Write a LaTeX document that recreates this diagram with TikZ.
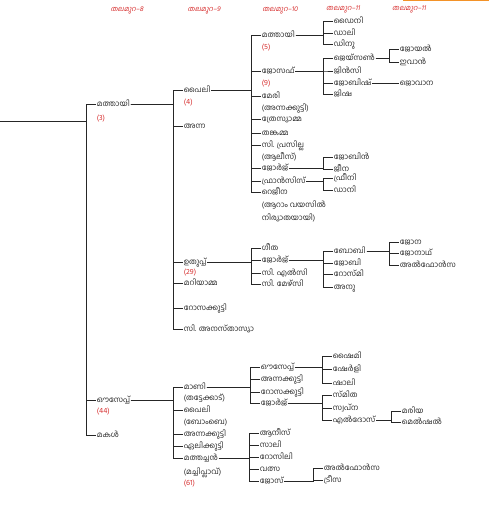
\documentclass[tikz,border=0pt]{standalone}
\usepackage{fontspec}
\usepackage{xcolor}
\newfontfamily\ml[Script=Malayalam]{Hind Kochi}
\newfontfamily\mlhead[Script=Malayalam,FakeSlant=0.2]{Hind Kochi}
\definecolor{numred}{RGB}{214,45,45}
\definecolor{barorange}{RGB}{243,146,40}
\tikzset{
    person/.style={anchor=west, inner sep=0.5pt, text height=1.6ex, text depth=0.5ex,
        font=\ml\fontsize{6.5}{7}\selectfont, text=black!85},
    aside/.style={person},
    refno/.style={person, text=numred},
    genhead/.style={inner sep=0.5pt, font=\mlhead\fontsize{6}{6}\selectfont, text=numred},
    famline/.style={line width=0.7pt, black!85},
}
% parent -> children, bus a little left of the children
\newcommand\kids[2]{\foreach \c in {#2} {\draw[famline] (#1.east) -| ([xshift=-8.5pt]\c.west) -- (\c.west);}}

\begin{document}
\begin{tikzpicture}[x=0.03cm, y=-0.03cm]
        \useasboundingbox (0,0) rectangle (491,513);
        \fill[barorange] (403,0) rectangle (489,1.5);

        \foreach \x/\g [count=\i] in {127/8, 204/9, 280/10, 343/11, 409/11}
            \node[genhead] (gen\i) at (\x,10) {തലമുറ–\g};

        % generation 8
        \node[person] (g8a) at (96,104) {മത്തായി};
        \node[refno] (g8a-no) at (96,118) {(3)};
        \node[person] (g8b) at (96,400) {ഔസേപ്പ്};
        \node[refno] (g8b-no) at (96,411) {(44)};
        \node[person] (g8c) at (96,435) {മകൾ};

        % generation 9
        \node[person] (p9a) at (183,90) {പൈലി};
        \node[refno] (p9a-no) at (183,102) {(4)};
        \node[person] (p9b) at (183,126) {അന്ന};
        \node[person] (p9c) at (183,262) {ഉതുപ്പ്};
        \node[refno] (p9c-no) at (183,272) {(29)};
        \node[person] (p9d) at (183,283) {മറിയാമ്മ};
        \node[person] (p9e) at (183,308) {റോസക്കുട്ടി};
        \node[person] (p9f) at (183,329) {സി. അനസ്താസ്യാ};

        \node[person] (q9a) at (183,387) {മാണി};
        \node[aside] (q9a-x) at (183,398) {(തട്ടേക്കാട്)};
        \node[person] (q9b) at (183,410) {പൈലി};
        \node[aside] (q9b-x) at (183,422) {(ബോംബെ)};
        \node[person] (q9c) at (183,434) {അന്നക്കുട്ടി};
        \node[person] (q9d) at (183,446) {ഏലിക്കുട്ടി};
        \node[person] (q9e) at (183,458) {മത്തച്ചൻ};
        \node[aside] (q9e-x) at (183,472) {(മച്ചിപ്ലാവ്)};
        \node[refno] (q9e-no) at (183,483) {(61)};

        % generation 10
        \node[person] (p10a) at (261,35) {മത്തായി};
        \node[refno] (p10a-no) at (261,47) {(5)};
        \node[person] (p10b) at (261,71) {ജോസഫ്};
        \node[refno] (p10b-no) at (261,83) {(9)};
        \node[person] (p10c) at (261,96) {മേരി};
        \node[aside] (p10c-x) at (261,108) {(അന്നക്കുട്ടി)};
        \node[person] (p10d) at (261,119) {ത്രേസ്യാമ്മ};
        \node[person] (p10e) at (261,133) {തങ്കമ്മ};
        \node[person] (p10f) at (261,145) {സി. പ്രസില്ല};
        \node[aside] (p10f-x) at (261,157) {(ആലീസ്)};
        \node[person] (p10g) at (261,168) {ജോർജ്};
        \node[person] (p10h) at (261,181) {ഫ്രാൻസിസ്};
        \node[person] (p10i) at (261,192) {റെജീന};
        \node[aside] (p10i-x) at (261,205) {(ആറാം വയസിൽ};
        \node[aside] (p10i-y) at (261,218) {നിര്യാതയായി)};

        \node[person] (u10a) at (261,248) {ഗീത};
        \node[person] (u10b) at (261,260) {ജോർജ്};
        \node[person] (u10c) at (261,273) {സി. എൽസി};
        \node[person] (u10d) at (261,284) {സി. മേഴ്സി};

        \node[person] (m10a) at (260,367) {ഔസേപ്പ്};
        \node[person] (m10b) at (260,379) {അന്നക്കുട്ടി};
        \node[person] (m10c) at (260,392) {റോസക്കുട്ടി};
        \node[person] (m10d) at (260,403) {ജോർജ്};

        \node[person] (c10a) at (259,433) {ആനീസ്};
        \node[person] (c10b) at (259,445) {സാലി};
        \node[person] (c10c) at (259,457) {റോസിലി};
        \node[person] (c10d) at (259,469) {വത്സ};
        \node[person] (c10e) at (259,481) {ജോസ്};

        % generation 11
        \node[person] (d11a) at (333,21) {ഡൈനി};
        \node[person] (d11b) at (333,33) {ഡാലി};
        \node[person] (d11c) at (333,44) {ഡിനു};
        \node[person] (j11a) at (333,58) {ജെയ്സൺ};
        \node[person] (j11b) at (333,71) {ജിൻസി};
        \node[person] (j11c) at (333,83) {ജോബിഷ്};
        \node[person] (j11d) at (333,94) {ജിഷ};
        \node[person] (g11a) at (333,157) {ജോബിൻ};
        \node[person] (g11b) at (333,169) {ജീന};
        \node[person] (f11a) at (333,178) {ഫ്രീനി};
        \node[person] (f11b) at (333,190) {ഡാനി};

        \node[person] (b11a) at (333,251) {ബോബി};
        \node[person] (b11b) at (333,263) {ജോബി};
        \node[person] (b11c) at (333,274) {റോസ്മി};
        \node[person] (b11d) at (333,287) {അനു};

        \node[person] (s11a) at (332,356) {ഷൈമി};
        \node[person] (s11b) at (332,369) {ഷേർളി};
        \node[person] (s11c) at (332,383) {ഷാലി};
        \node[person] (e11a) at (332,395) {സ്മിത};
        \node[person] (e11b) at (332,408) {സ്വപ്ന};
        \node[person] (e11c) at (332,420) {എൽദോസ്};

        \node[person] (t11a) at (323,468) {അൽഫോൻസ};
        \node[person] (t11b) at (323,480) {ട്രീസ};

        % generation 12
        \node[person] (y12a) at (399,49) {ജോയൽ};
        \node[person] (y12b) at (399,62) {ഇവാൻ};
        \node[person] (w12) at (399,83) {ജൊവാന};
        \node[person] (n12a) at (399,242) {ജോന};
        \node[person] (n12b) at (399,253) {ജോനാഥ്};
        \node[person] (n12c) at (399,265) {അൽഫോൻസ};
        \node[person] (r12a) at (401,411) {മരിയ};
        \node[person] (r12b) at (401,422) {മെൽഷൽ};

        % lines
        \coordinate (root) at (0,121);
        \foreach \c in {g8a,g8b,g8c}
            \draw[famline] (root) -| ([xshift=-8.5pt]\c.west) -- (\c.west);
        \kids{g8a}{p9a,p9b,p9c,p9d,p9e,p9f}
        \kids{g8b}{q9a,q9b,q9c,q9d,q9e}
        \kids{p9a}{p10a,p10b,p10c,p10d,p10e,p10f,p10g,p10h,p10i}
        \kids{p9c}{u10a,u10b,u10c,u10d}
        \kids{q9a}{m10a,m10b,m10c,m10d}
        \kids{q9e}{c10a,c10b,c10c,c10d,c10e}
        \kids{p10a}{d11a,d11b,d11c}
        \kids{p10b}{j11a,j11b,j11c,j11d}
        \kids{p10g}{g11a,g11b}
        \kids{p10h}{f11a,f11b}
        \kids{u10b}{b11a,b11b,b11c,b11d}
        \kids{m10a}{s11a,s11b,s11c}
        \kids{m10d}{e11a,e11b,e11c}
        \kids{c10e}{t11a,t11b}
        \kids{j11a}{y12a,y12b}
        \draw[famline] (j11c) -- (w12);
        \kids{b11a}{n12a,n12b,n12c}
        \kids{e11c}{r12a,r12b}
\end{tikzpicture}
\end{document}
